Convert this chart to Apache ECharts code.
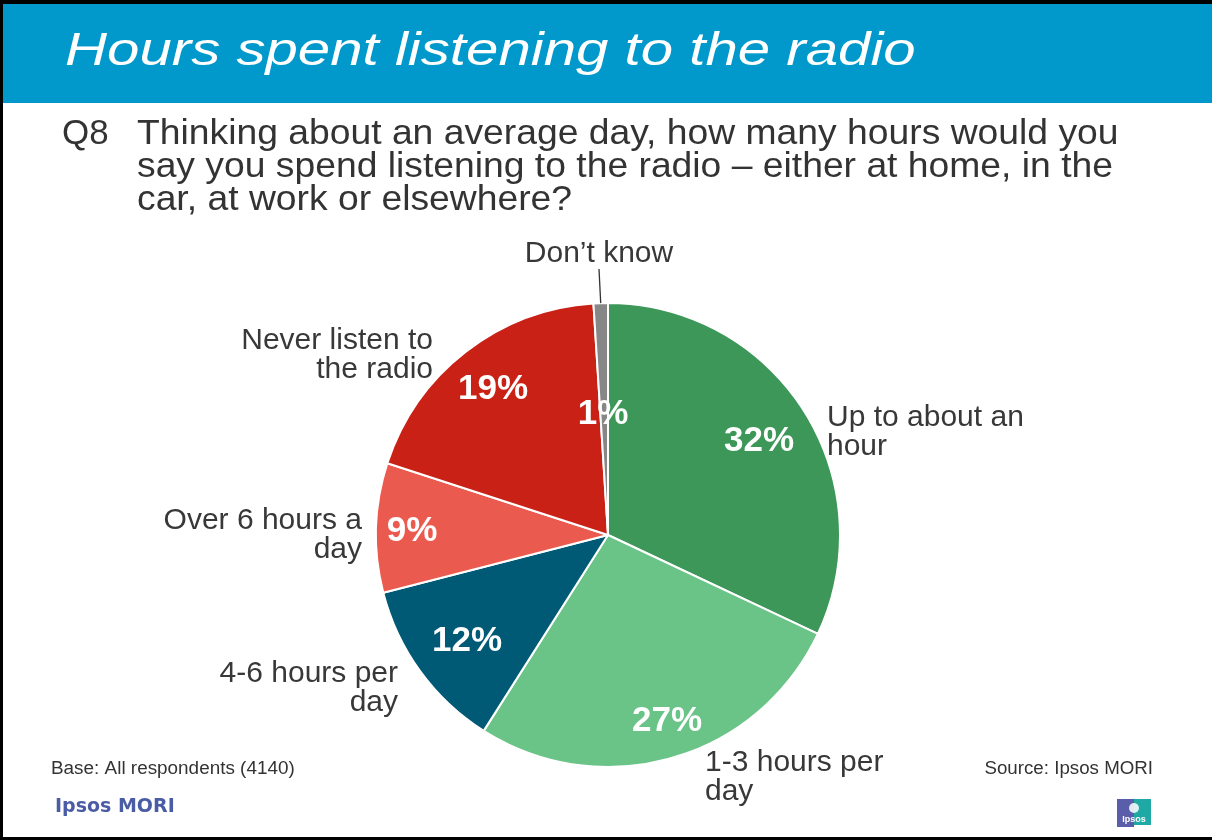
<!DOCTYPE html>
<html>
<head>
<meta charset="utf-8">
<script src="https://cdn.jsdelivr.net/npm/echarts@6/dist/echarts.min.js"></script>
<style>
  html, body { margin: 0; padding: 0; background: #fff; }
  #main { width: 1212px; height: 840px; }
</style>
</head>
<body>
<div id="main"></div>
<script>
// Survey answers (Q8): share of respondents, %
const categories = [
  'Up to about an\nhour',
  '1-3 hours per\nday',
  '4-6 hours per\nday',
  'Over 6 hours a\nday',
  'Never listen to\nthe radio',
  'Don\u2019t know'
];
const shares = [32, 27, 12, 9, 19, 1];
const sliceColors = ['#3D9758', '#6BC487', '#005A76', '#EB5A4F', '#CA2116', '#878787'];

// Label anchors (layout only)
const insideAnchors = [[759, 441], [667, 721], [467, 641], [412, 531], [493, 389], [603, 414]];
const outsideAnchors = [
  [827, 432, 'left'],
  [705, 777, 'left'],
  [398, 688, 'right'],
  [362, 535, 'right'],
  [433, 355, 'right'],
  [599, 254, 'center']
];

const FONT = '"Liberation Sans", Arial, Helvetica, sans-serif';
const CENTER = [608, 535];
const RADIUS = 232;

const chart = echarts.init(document.getElementById('main'), null, { renderer: 'canvas' });

const option = {
  backgroundColor: '#ffffff',
  animation: false,
  graphic: [
    // frame and heading band
    { type: 'rect', shape: { x: 3, y: 4, width: 1209, height: 99 }, style: { fill: '#0199CB' }, z: 1 },
    { type: 'rect', shape: { x: 0, y: 0, width: 1212, height: 4 }, style: { fill: '#000' }, z: 2 },
    { type: 'rect', shape: { x: 0, y: 0, width: 3, height: 840 }, style: { fill: '#000' }, z: 2 },
    { type: 'rect', shape: { x: 0, y: 837, width: 1212, height: 3 }, style: { fill: '#000' }, z: 2 },
    {
      type: 'text', x: 65, y: 52, scaleX: 1.265, z: 3,
      style: {
        text: 'Hours spent listening to the radio',
        fontFamily: FONT, fontStyle: 'italic', fontSize: 46,
        fill: '#ffffff', verticalAlign: 'middle', align: 'left'
      }
    },
    // question
    {
      type: 'text', x: 62, y: 118, z: 3,
      style: {
        text: 'Q8', fontFamily: FONT, fontSize: 35, lineHeight: 33,
        fill: '#333333', verticalAlign: 'top', align: 'left'
      }
    },
    {
      type: 'text', x: 137, y: 118, scaleX: 1.065, z: 3,
      style: {
        text: 'Thinking about an average day, how many hours would you\nsay you spend listening to the radio \u2013 either at home, in the\ncar, at work or elsewhere?',
        fontFamily: FONT, fontSize: 35, lineHeight: 33,
        fill: '#333333', verticalAlign: 'top', align: 'left'
      }
    },
    // footer
    {
      type: 'text', x: 51, y: 769, scaleX: 1.05, z: 3,
      style: {
        text: 'Base: All respondents (4140)', fontFamily: FONT, fontSize: 18,
        fill: '#333333', verticalAlign: 'middle', align: 'left'
      }
    },
    {
      type: 'text', x: 1153, y: 769, scaleX: 1.04, z: 3,
      style: {
        text: 'Source: Ipsos MORI', fontFamily: FONT, fontSize: 18,
        fill: '#333333', verticalAlign: 'middle', align: 'right'
      }
    },
    {
      type: 'text', x: 55, y: 807, z: 3,
      style: {
        text: 'Ipsos MORI', fontFamily: '"DejaVu Sans", Verdana, sans-serif', fontWeight: 'bold', fontSize: 19,
        fill: '#4B5CA6', verticalAlign: 'middle', align: 'left'
      }
    },
    // small brand mark
    { type: 'rect', shape: { x: 1117, y: 799, width: 17, height: 28 }, style: { fill: '#5A5DAA' }, z: 3 },
    { type: 'rect', shape: { x: 1134, y: 799, width: 17, height: 26 }, style: { fill: '#1FA9A4' }, z: 3 },
    { type: 'circle', shape: { cx: 1134, cy: 808, r: 5 }, style: { fill: '#ffffff', opacity: 0.85 }, z: 4 },
    {
      type: 'text', x: 1134, y: 820, z: 5,
      style: {
        text: 'Ipsos', fontFamily: FONT, fontWeight: 'bold', fontSize: 9,
        fill: '#ffffff', verticalAlign: 'middle', align: 'center'
      }
    }
  ],
  series: [
    {
      // slices with their percentage values
      type: 'pie',
      center: CENTER,
      radius: RADIUS,
      startAngle: 90,
      clockwise: true,
      avoidLabelOverlap: false,
      silent: true,
      z: 2,
      data: categories.map((name, i) => ({ name, value: shares[i], itemStyle: { color: sliceColors[i] } })),
      itemStyle: { borderColor: '#ffffff', borderWidth: 2 },
      label: {
        show: true,
        position: 'inside',
        formatter: '{c}%',
        color: '#ffffff',
        fontFamily: FONT,
        fontWeight: 'bold',
        fontSize: 35,
        textBorderWidth: 0
      },
      labelLine: { show: false },
      labelLayout: (p) => ({
        x: insideAnchors[p.dataIndex][0],
        y: insideAnchors[p.dataIndex][1],
        align: 'center',
        verticalAlign: 'middle'
      })
    },
    {
      // category names around the pie
      type: 'pie',
      center: CENTER,
      radius: RADIUS,
      startAngle: 90,
      clockwise: true,
      avoidLabelOverlap: false,
      silent: true,
      z: 3,
      data: categories.map((name, i) => ({
        name,
        value: shares[i],
        labelLine: { show: name === 'Don\u2019t know' }
      })),
      itemStyle: { color: 'rgba(0,0,0,0)', borderWidth: 0 },
      label: {
        show: true,
        position: 'outside',
        formatter: '{b}',
        color: '#383838',
        fontFamily: FONT,
        fontSize: 30,
        lineHeight: 29
      },
      labelLine: {
        show: false,
        length: 10,
        length2: 0,
        lineStyle: { color: '#333333', width: 1.3 }
      },
      labelLayout: (p) => ({
        x: outsideAnchors[p.dataIndex][0],
        y: outsideAnchors[p.dataIndex][1],
        align: outsideAnchors[p.dataIndex][2],
        verticalAlign: 'middle'
      })
    }
  ]
};

chart.setOption(option);
</script>
</body>
</html>
